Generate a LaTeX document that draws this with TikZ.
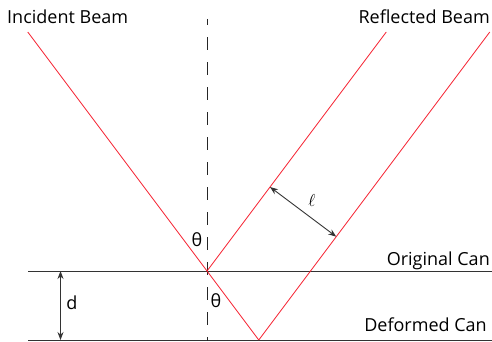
\documentclass[tikz,border=0pt]{standalone}
\usepackage{fontspec}
\setmainfont{Open Sans}
\usepackage{tikz}
\usetikzlibrary{arrows,arrows.meta,positioning,calc}
\definecolor{beamred}{RGB}{245,30,45}

\begin{document}
\begin{tikzpicture}[
    x=1pt, y=1pt,
    beam/.style={draw=beamred, line width=0.8pt},
    can/.style={draw=black!80, line width=0.9pt},
    normal/.style={draw=black!85, line width=0.9pt, dash pattern=on 13pt off 12pt, dash phase=7pt},
    dim/.style={{Stealth[length=8pt,width=6pt]}-{Stealth[length=8pt,width=6pt]}, draw=black!80, line width=0.9pt},
    label/.style={font=\fontsize{18}{20}\selectfont, inner sep=0pt}
]
\useasboundingbox (0,0) rectangle (492,341);

% Reflection points
\coordinate (top) at (207,70);
\coordinate (bottom) at (258.75,1);

% Can surfaces
\coordinate (origL) at (28,70);
\coordinate (origR) at (492,70);
\coordinate (defL) at (28,1);
\coordinate (defR) at (492,1);
\draw[can] (origL) -- (origR);
\draw[can] (defL) -- (defR);

% Surface normal
\coordinate (normT) at (207,322);
\coordinate (normB) at (207,0);
\draw[normal] (normT) -- (normB);

% Beams
\coordinate (inc) at (27.75,309);
\coordinate (refA) at (386.25,309);
\coordinate (refB) at (489.75,309);
\draw[beam] (inc) -- (top) -- (bottom);
\draw[beam] (top) -- (refA);
\draw[beam] (bottom) -- (refB);

% Path difference
\coordinate (lA) at (270,154);
\coordinate (lB) at (336.24,104.32);
\draw[dim] (lA) -- (lB);
\node[label] (ell) at (312,141) {$\ell$};

% Depth
\coordinate (dT) at (60.5,70);
\coordinate (dB) at (60.5,1);
\draw[dim] (dT) -- (dB);
\node[label] (depth) at (72,38) {d};

% Angles
\node[label] (thetaA) at (197,101) {θ};
\node[label] (thetaB) at (216,40) {θ};

% Labels
\node[label, anchor=base west] (incident) at (7,318) {Incident Beam};
\node[label, anchor=base east] (reflected) at (490,318) {Reflected Beam};
\node[label, anchor=base east] (original) at (490,76) {Original Can};
\node[label, anchor=base east] (deformed) at (487,9.5) {Deformed Can};

\end{tikzpicture}
\end{document}
